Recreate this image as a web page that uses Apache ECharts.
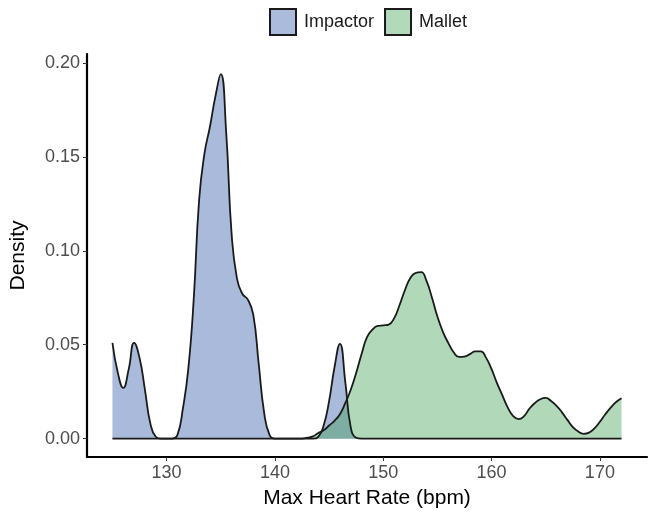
<!DOCTYPE html>
<html>
<head>
<meta charset="utf-8">
<script src="https://cdn.jsdelivr.net/npm/echarts@6/dist/echarts.min.js"></script>
<style>
  html, body { margin: 0; padding: 0; background: #fff; }
  #main { width: 651px; height: 514px; }
</style>
</head>
<body>
<div id="main"></div>
<script>
// 图例名称
var groupNames = ['Impactor', 'Mallet'];

// 心率 (bpm)，间隔 0.5
var bpm = [125, 125.5, 126, 126.5, 127, 127.5, 128, 128.5, 129, 129.5,
    130, 130.5, 131, 131.5, 132, 132.5, 133, 133.5, 134, 134.5,
    135, 135.5, 136, 136.5, 137, 137.5, 138, 138.5, 139, 139.5,
    140, 140.5, 141, 141.5, 142, 142.5, 143, 143.5, 144, 144.5,
    145, 145.5, 146, 146.5, 147, 147.5, 148, 148.5, 149, 149.5,
    150, 150.5, 151, 151.5, 152, 152.5, 153, 153.5, 154, 154.5,
    155, 155.5, 156, 156.5, 157, 157.5, 158, 158.5, 159, 159.5,
    160, 160.5, 161, 161.5, 162, 162.5, 163, 163.5, 164, 164.5,
    165, 165.5, 166, 166.5, 167, 167.5, 168, 168.5, 169, 169.5,
    170, 170.5, 171, 171.5, 172];

// Impactor 密度
var impactorDensity = [0.051, 0.035, 0.027, 0.037, 0.051, 0.043, 0.026, 0.008, 0.001, 0,
    0, 0, 0.002, 0.016, 0.037, 0.074, 0.127, 0.152, 0.166, 0.182,
    0.194, 0.163, 0.109, 0.085, 0.077, 0.074, 0.066, 0.040, 0.014, 0.002,
    0, 0, 0, 0, 0, 0, 0, 0, 0.001, 0.007,
    0.020, 0.038, 0.0505, 0.030, 0.006, 0.0005, 0, 0, 0, 0,
    0, 0, 0, 0, 0, 0, 0, 0, 0, 0,
    0, 0, 0, 0, 0, 0, 0, 0, 0, 0,
    0, 0, 0, 0, 0, 0, 0, 0, 0, 0,
    0, 0, 0, 0, 0, 0, 0, 0, 0, 0,
    0, 0, 0, 0, 0];

// Mallet 密度
var malletDensity = [0, 0, 0, 0, 0, 0, 0, 0, 0, 0,
    0, 0, 0, 0, 0, 0, 0, 0, 0, 0,
    0, 0, 0, 0, 0, 0, 0, 0, 0, 0,
    0, 0, 0, 0, 0, 0, 0.0005, 0.0012, 0.003, 0.0045,
    0.007, 0.0095, 0.013, 0.019, 0.026, 0.035, 0.045, 0.054, 0.058, 0.060,
    0.0603, 0.0607, 0.064, 0.071, 0.079, 0.0855, 0.0882, 0.0886, 0.0838, 0.075,
    0.065, 0.057, 0.051, 0.046, 0.0435, 0.0437, 0.045, 0.0465, 0.0465, 0.043,
    0.037, 0.0296, 0.023, 0.0165, 0.012, 0.0104, 0.012, 0.016, 0.019, 0.021,
    0.0217, 0.020, 0.0175, 0.014, 0.010, 0.0062, 0.0038, 0.0026, 0.0032, 0.0055,
    0.009, 0.013, 0.0165, 0.0195, 0.0215];

// 刻度
var xTicks = [130, 140, 150, 160, 170];
var yTicks = [0, 0.05, 0.10, 0.15, 0.20];

function zip(xs, ys) {
    var out = [];
    for (var i = 0; i < xs.length; i++) {
        out.push([xs[i], ys[i]]);
    }
    return out;
}

var chart = echarts.init(document.getElementById('main'), null, { renderer: 'canvas' });
var font = 'Liberation Sans, Arial, Helvetica, sans-serif';

var option = {
    backgroundColor: '#ffffff',
    animation: false,
    legend: {
        top: 3,
        left: 264,
        itemWidth: 26,
        itemHeight: 26,
        itemGap: 10,
        icon: 'rect',
        selectedMode: false,
        data: groupNames,
        textStyle: { fontFamily: font, fontSize: 18, color: '#1a1a1a', padding: [0, 0, 0, 3] }
    },
    grid: { left: 71, right: 4, top: 54, bottom: 52 },
    xAxis: {
        type: 'value',
        min: 122.65,
        max: 174.35,
        name: 'Max Heart Rate (bpm)',
        nameLocation: 'middle',
        nameGap: 31,
        nameTextStyle: { fontFamily: font, fontSize: 21, color: '#000' },
        axisLine: { show: true, onZero: false, lineStyle: { color: '#000', width: 2.2 } },
        axisTick: { show: true, length: 4, customValues: xTicks, lineStyle: { color: '#333', width: 1 } },
        axisLabel: { customValues: xTicks, margin: 7, fontFamily: font, fontSize: 18, color: '#4d4d4d' },
        splitLine: { show: false }
    },
    yAxis: {
        type: 'value',
        min: -0.00975,
        max: 0.2047,
        name: 'Density',
        nameLocation: 'middle',
        nameGap: 58,
        nameRotate: 90,
        nameTextStyle: { fontFamily: font, fontSize: 21, color: '#000' },
        axisLine: { show: true, onZero: false, lineStyle: { color: '#000', width: 2.2 } },
        axisTick: { show: true, length: 4, customValues: yTicks, lineStyle: { color: '#333', width: 1 } },
        axisLabel: {
            customValues: yTicks, margin: 7, fontFamily: font, fontSize: 18, color: '#4d4d4d',
            formatter: function (v) { return v.toFixed(2); }
        },
        splitLine: { show: false }
    },
    series: [
        {
            name: groupNames[0],
            type: 'line',
            data: zip(bpm, impactorDensity),
            smooth: 0.5,
            showSymbol: false,
            itemStyle: { color: '#aabbdb', borderColor: '#1a1a1a', borderWidth: 1.5 },
            lineStyle: { color: '#1a1a1a', width: 1.8 },
            areaStyle: { color: 'rgba(43,83,163,0.4)', opacity: 1, origin: 0 }
        },
        {
            name: groupNames[1],
            type: 'line',
            data: zip(bpm, malletDensity),
            smooth: 0.5,
            showSymbol: false,
            itemStyle: { color: '#b1d9ba', borderColor: '#1a1a1a', borderWidth: 1.5 },
            lineStyle: { color: '#1a1a1a', width: 1.8 },
            areaStyle: { color: 'rgba(60,158,80,0.4)', opacity: 1, origin: 0 }
        }
    ]
};

chart.setOption(option);
</script>
</body>
</html>
